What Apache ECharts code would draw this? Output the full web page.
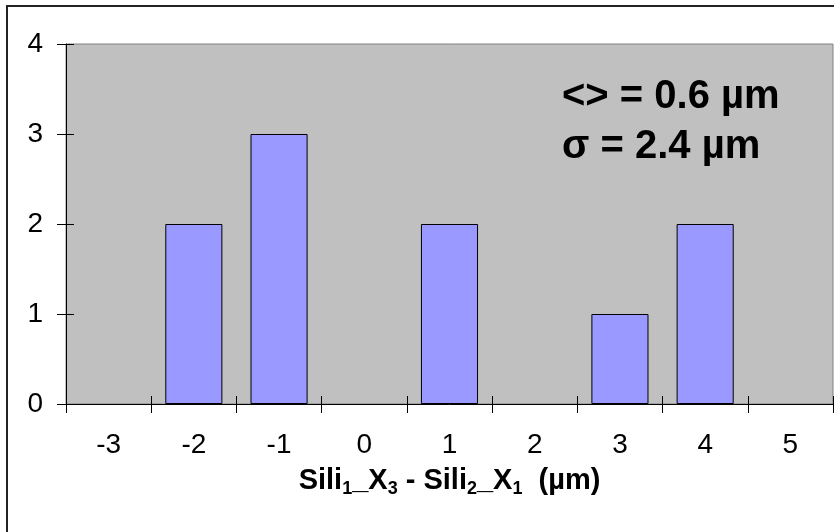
<!DOCTYPE html>
<html>
<head>
<meta charset="utf-8">
<style>
  html, body { margin: 0; padding: 0; background: #fff; }
  #chart { width: 834px; height: 532px; }
</style>
<script src="https://cdn.jsdelivr.net/npm/echarts@6/dist/echarts.min.js"></script>
</head>
<body>
<div id="chart"></div>
<script>
// histogram of Sili1_X3 - Sili2_X1 (µm)
const categories = ['-3', '-2', '-1', '0', '1', '2', '3', '4', '5'];
const counts = [0, 2, 3, 0, 2, 0, 1, 2, 0];
const meanUm = 0.6;
const sigmaUm = 2.4;

const font = 'Liberation Sans, Arial, sans-serif';
const chart = echarts.init(document.getElementById('chart'));

const option = {
  animation: false,
  backgroundColor: '#fff',
  textStyle: { fontFamily: font },
  grid: {
    left: 66,
    top: 44,
    right: 1,
    height: 360,
    show: true,
    backgroundColor: '#C0C0C0',
    borderColor: '#808080',
    borderWidth: 1
  },
  graphic: [
    {
      type: 'rect',
      shape: { x: 7, y: 6, width: 900, height: 600 },
      style: { fill: 'none', stroke: '#222', lineWidth: 2 },
      silent: true
    },
    {
      type: 'text',
      left: 562,
      top: 72,
      style: {
        text: '<> = ' + meanUm + ' µm\nσ = ' + sigmaUm + ' µm',
        fontFamily: font,
        fontSize: 40,
        fontWeight: 'bold',
        lineHeight: 50,
        fill: '#000'
      },
      silent: true
    }
  ],
  xAxis: [
    {
      type: 'category',
      data: categories,
      position: 'bottom',
      boundaryGap: true,
      axisLine: { show: true, lineStyle: { color: '#000', width: 1 } },
      axisTick: { show: true, length: 9, lineStyle: { color: '#000' } },
      axisLabel: { color: '#000', fontSize: 28, margin: 27 },
      name: 'Sili{s|1}_X{s|3} - Sili{s|2}_X{s|1}  (µm)',
      nameLocation: 'middle',
      nameGap: 59,
      nameTextStyle: {
        color: '#000',
        fontSize: 29,
        fontWeight: 'bold',
        lineHeight: 34,
        rich: {
          s: { fontSize: 18, fontWeight: 'bold', lineHeight: 16, verticalAlign: 'bottom', color: '#000' }
        }
      }
    },
    {
      // inside half of the crossing ticks
      type: 'category',
      data: categories,
      position: 'bottom',
      boundaryGap: true,
      axisLine: { show: false },
      axisTick: { show: true, inside: true, length: 8, lineStyle: { color: '#000' } },
      axisLabel: { show: false }
    }
  ],
  yAxis: [
    {
      type: 'value',
      min: 0,
      max: 4,
      interval: 1,
      position: 'left',
      splitLine: { show: false },
      axisLine: { show: true, lineStyle: { color: '#000', width: 1 } },
      axisTick: { show: true, length: 9, lineStyle: { color: '#000' } },
      axisLabel: { color: '#000', fontSize: 28, margin: 23 }
    },
    {
      type: 'value',
      min: 0,
      max: 4,
      interval: 1,
      position: 'left',
      splitLine: { show: false },
      axisLine: { show: false },
      axisTick: { show: true, inside: true, length: 8, lineStyle: { color: '#000' } },
      axisLabel: { show: false }
    }
  ],
  series: [
    {
      type: 'bar',
      xAxisIndex: 0,
      yAxisIndex: 0,
      // empty classes draw nothing
      data: counts.map(v => (v === 0 ? null : v)),
      barWidth: '67%',
      itemStyle: { color: '#9999FF', borderColor: '#000', borderWidth: 1 }
    }
  ]
};

chart.setOption(option);
window.onresize = function () {
  chart.resize();
};
</script>
</body>
</html>
